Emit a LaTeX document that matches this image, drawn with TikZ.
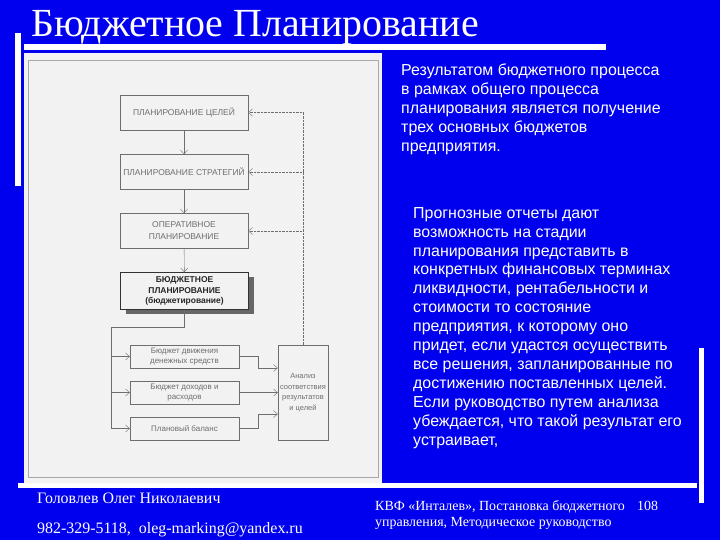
\documentclass[tikz,border=0pt]{standalone}
\usepackage{fontspec}
\setmainfont{Liberation Serif}
\setsansfont{Liberation Sans}
\usetikzlibrary{arrows.meta,shadows}
\definecolor{slideblue}{RGB}{0,0,238}
\definecolor{panelgray}{RGB}{242,242,242}
\definecolor{linegray}{RGB}{110,110,110}

\begin{document}
\begin{tikzpicture}[x=1bp,y=-1bp,
    box/.style={draw=linegray,fill=panelgray,minimum width=128bp,minimum height=35bp,inner sep=1bp,align=center,
        text=linegray,font=\sffamily\fontsize{8.5}{12}\selectfont},
    mainbox/.style={box,draw=black!80,text=black!85,inner sep=0pt,minimum height=37bp,font=\sffamily\bfseries\fontsize{8.5}{10.5}\selectfont,
        drop shadow={shadow xshift=5bp,shadow yshift=-4bp,fill=black!60,opacity=1}},
    budget/.style={box,minimum width=109bp,minimum height=23bp,font=\sffamily\fontsize{8}{9.5}\selectfont},
    arr/.style={draw=linegray,-{Straight Barb[length=4bp,width=7bp]}},
    fb/.style={arr,densely dotted},
    slidetext/.style={text=white,inner sep=0pt,align=left,anchor=north west,font=\sffamily\fontsize{16}{19}\selectfont},
    foot/.style={text=white,inner sep=0pt,anchor=base west}]

    \fill[slideblue] (0,0) rectangle (720,540);
    \useasboundingbox (0,0) rectangle (720,540);

    \fill[white] (15,33) rectangle (21,186);
    \fill[white] (24,44) rectangle (606,50);
    \fill[white] (18,483) rectangle (697,488);
    \fill[white] (699,348) rectangle (704,503);

    \node[foot,font=\fontsize{40}{40}\selectfont] (title) at (31,37) {Бюджетное Планирование};

    \fill[panelgray] (24,53) rectangle (382,483);
    \draw[linegray!60] (28,60) rectangle (378,477);

    \node[box] (goals) at (184,112.5) {ПЛАНИРОВАНИЕ ЦЕЛЕЙ};
    \node[box] (strat) at (184,172)   {ПЛАНИРОВАНИЕ СТРАТЕГИЙ};
    \node[box] (oper)  at (184,231)   {ОПЕРАТИВНОЕ\\ПЛАНИРОВАНИЕ};
    \node[mainbox] (budg) at (184.5,291) {БЮДЖЕТНОЕ\\ПЛАНИРОВАНИЕ\\(бюджетирование)};

    \node[budget] (cash)    at (184.5,356.5) {Бюджет движения\\денежных средств};
    \node[budget] (income)  at (184.5,392.5) {Бюджет доходов и\\расходов};
    \node[budget] (balance) at (184.5,428.5) {Плановый баланс};
    \node[box,minimum width=50bp,minimum height=95bp,font=\sffamily\fontsize{7.5}{10.5}\selectfont] (anal) at (303,392.5) {Анализ\\соответствия\\результатов\\и целей};

    \path [arr] (goals) edge (strat);
    \path [arr] (strat) edge (oper);
    \path [arr] (oper) edge (budg);

    \coordinate (fb1) at (303,112.5);
    \coordinate (fb2) at (303,172);
    \coordinate (fb3) at (303,231);
    \draw[linegray,densely dotted] (anal.north) -- (fb1);
    \draw[fb] (fb1) -- (goals);
    \draw[fb] (fb2) -- (strat);
    \draw[fb] (fb3) -- (oper);

    \coordinate (split) at (111,327);
    \coordinate (l1) at (111,356.5);
    \coordinate (l2) at (111,392.5);
    \coordinate (l3) at (111,428.5);
    \draw[linegray] (budg.south) |- (split) -- (l3);
    \draw[arr] (l1) -- (cash);
    \draw[arr] (l2) -- (income);
    \draw[arr] (l3) -- (balance);

    \coordinate (r1) at (258,368);
    \coordinate (r3) at (258,414);
    \draw[arr] (cash.east) -| (r1) -- (r1 -| anal.west);
    \draw[arr] (income) -- (anal);
    \draw[arr] (balance.east) -| (r3) -- (r3 -| anal.west);

    \node[slidetext] (result) at (401,64) {Результатом бюджетного процесса\\в рамках общего процесса\\планирования является получение\\трех основных бюджетов\\предприятия.};
    \node[slidetext] (forecast) at (413,207) {Прогнозные отчеты дают\\возможность на стадии\\планирования представить в\\конкретных финансовых терминах\\ликвидности, рентабельности и\\стоимости то состояние\\предприятия, к которому оно\\придет, если удастся осуществить\\все решения, запланированные по\\достижению поставленных целей.\\Если руководство путем анализа\\убеждается, что такой результат его\\устраивает,};

    \node[foot,font=\fontsize{16}{18}\selectfont] (author) at (37,503) {Головлев Олег Николаевич};
    \node[foot,font=\fontsize{16}{18}\selectfont] (contact) at (37,533) {982-329-5118,\ \ oleg-marking@yandex.ru};
    \node[foot,font=\fontsize{14}{16}\selectfont] (source1) at (375,510) {КВФ «Инталев», Постановка бюджетного};
    \node[foot,font=\fontsize{14}{16}\selectfont] (source2) at (375,526) {управления, Методическое руководство};
    \node[foot,font=\fontsize{14}{16}\selectfont] (page) at (637,510) {108};
\end{tikzpicture}
\end{document}
